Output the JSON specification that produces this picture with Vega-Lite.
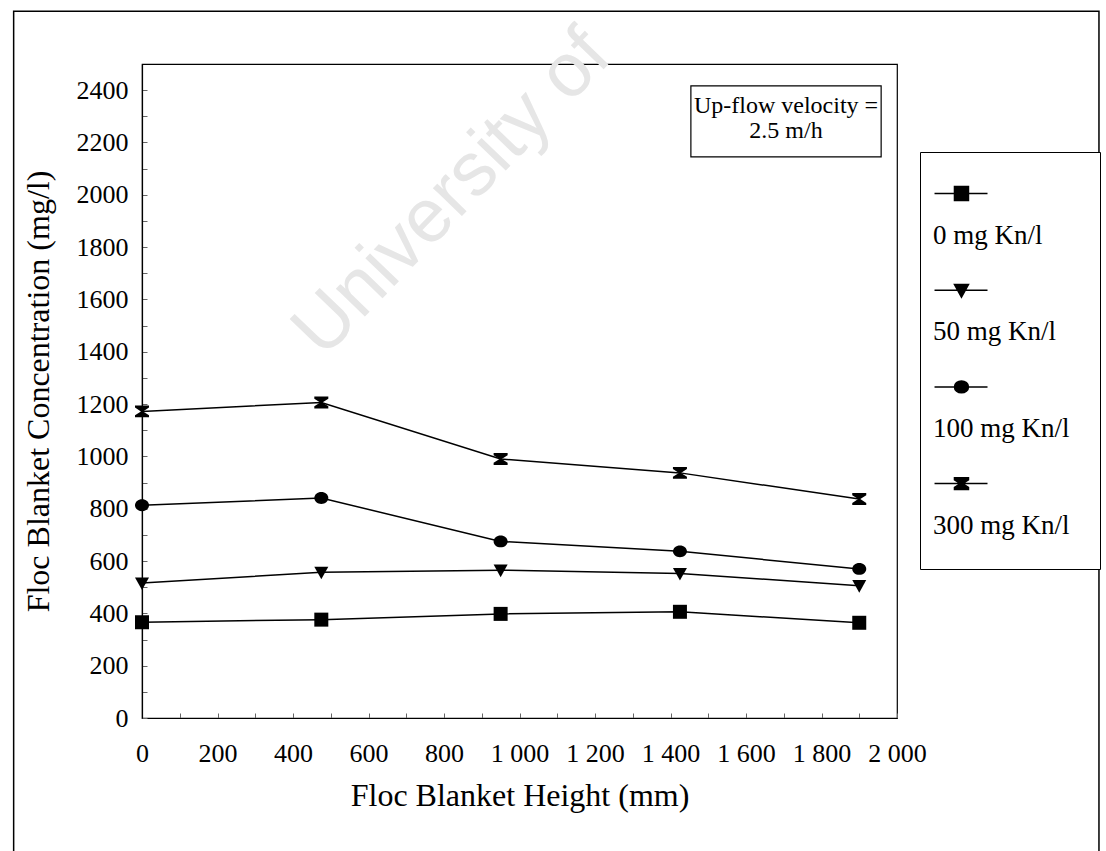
{
  "$schema": "https://vega.github.io/schema/vega-lite/v6.json",
  "width": 755,
  "height": 654,
  "autosize": {"type": "none"},
  "padding": {"left": 142, "top": 64, "right": 209, "bottom": 133},
  "background": "white",
  "config": {
    "view": {"stroke": "black", "strokeWidth": 1.2},
    "font": "Liberation Serif",
    "point": {"stroke": "black", "strokeWidth": 1.5},
    "axis": {
      "labelFont": "Liberation Serif",
      "labelFontSize": 26,
      "labelColor": "black",
      "titleFont": "Liberation Serif",
      "titleFontSize": 32,
      "titleFontWeight": "normal",
      "titleColor": "black",
      "domainColor": "black",
      "domainWidth": 1.2,
      "tickColor": "#666",
      "tickWidth": 1,
      "tickSize": -5,
      "grid": false,
      "labelOverlap": false,
      "labelFlush": false
    }
  },
  "datasets": {
    "frame": [{"h": -340, "h2": 2535, "c": -700, "c2": 2702}],
    "mark": [{"h": 480, "c": 1370, "t": "University of"}],
    "series": [
      {"s": "0 mg Kn/l", "h": 0, "c": 366},
      {"s": "0 mg Kn/l", "h": 475, "c": 376},
      {"s": "0 mg Kn/l", "h": 950, "c": 398},
      {"s": "0 mg Kn/l", "h": 1425, "c": 406},
      {"s": "0 mg Kn/l", "h": 1900, "c": 364},
      {"s": "50 mg Kn/l", "h": 0, "c": 516},
      {"s": "50 mg Kn/l", "h": 475, "c": 557},
      {"s": "50 mg Kn/l", "h": 950, "c": 565},
      {"s": "50 mg Kn/l", "h": 1425, "c": 552},
      {"s": "50 mg Kn/l", "h": 1900, "c": 506},
      {"s": "100 mg Kn/l", "h": 0, "c": 813},
      {"s": "100 mg Kn/l", "h": 475, "c": 841},
      {"s": "100 mg Kn/l", "h": 950, "c": 675},
      {"s": "100 mg Kn/l", "h": 1425, "c": 637},
      {"s": "100 mg Kn/l", "h": 1900, "c": 570},
      {"s": "300 mg Kn/l", "h": 0, "c": 1172},
      {"s": "300 mg Kn/l", "h": 475, "c": 1206},
      {"s": "300 mg Kn/l", "h": 950, "c": 990},
      {"s": "300 mg Kn/l", "h": 1425, "c": 937},
      {"s": "300 mg Kn/l", "h": 1900, "c": 837}
    ],
    "notebox": [{"h": 1454, "h2": 1958, "c": 2145, "c2": 2416}],
    "notetext": [
      {"h": 1706, "c": 2339, "t": "Up-flow velocity ="},
      {"h": 1706, "c": 2244, "t": "2.5 m/h"}
    ]
  },
  "resolve": {"scale": {"shape": "independent"}, "legend": {"shape": "independent"}},
  "encoding": {
    "x": {
      "field": "h",
      "type": "quantitative",
      "scale": {"domain": [0, 2000], "nice": false, "zero": false},
      "axis": {
        "title": "Floc Blanket Height (mm)",
        "values": [0,100,200,300,400,500,600,700,800,900,1000,1100,1200,1300,1400,1500,1600,1700,1800,1900,2000],
        "labelExpr": "datum.value % 200 == 0 ? replace(format(datum.value, ',d'), ',', ' ') : ''",
        "labelPadding": 27,
        "titlePadding": 14
      }
    },
    "y": {
      "field": "c",
      "type": "quantitative",
      "scale": {"domain": [0, 2500], "nice": false, "zero": false},
      "axis": {
        "title": "Floc Blanket Concentration (mg/l)",
        "values": [0,100,200,300,400,500,600,700,800,900,1000,1100,1200,1300,1400,1500,1600,1700,1800,1900,2000,2100,2200,2300,2400],
        "labelExpr": "datum.value % 200 == 0 ? format(datum.value, 'd') : ''",
        "labelPadding": 19,
        "titlePadding": 21
      }
    }
  },
  "layer": [
    {
      "data": {"name": "frame"},
      "mark": {"type": "rect", "fill": null, "fillOpacity": 0, "stroke": "black", "strokeWidth": 1.5, "clip": false},
      "encoding": {"x2": {"field": "h2"}, "y2": {"field": "c2"}}
    },
    {
      "data": {"name": "mark"},
      "mark": {"type": "text", "font": "Liberation Sans", "fontSize": 76, "color": "#e6e6e6", "angle": -46, "align": "left", "baseline": "alphabetic"},
      "encoding": {"text": {"field": "t"}}
    },
    {
      "data": {"name": "series"},
      "mark": {"type": "line", "color": "black", "strokeWidth": 1.5},
      "encoding": {"detail": {"field": "s"}}
    },
    {
      "data": {"name": "series"},
      "mark": {"type": "point", "filled": true, "color": "black", "size": 196, "opacity": 1, "strokeWidth": 0},
      "encoding": {
        "shape": {
          "field": "s",
          "type": "nominal",
          "scale": {
            "domain": ["0 mg Kn/l", "50 mg Kn/l", "100 mg Kn/l", "300 mg Kn/l"],
            "range": [
              "M-1,-1H1V1H-1Z",
              "M-1,-0.8H1L0,1Z",
              "M1,0A1,0.85 0 1,1 -1,0A1,0.85 0 1,1 1,0Z",
              "M-1,-0.85H1V-0.55L0.15,0L1,0.55V0.85H-1V0.55L-0.15,0L-1,-0.55Z"
            ]
          },
          "legend": null
        }
      }
    },
    {
      "data": {"name": "series"},
      "transform": [{"filter": "false"}],
      "mark": {"type": "point", "filled": true, "color": "black", "size": 196, "opacity": 1},
      "encoding": {
        "shape": {
          "field": "s",
          "type": "nominal",
          "scale": {
            "domain": ["0 mg Kn/l", "50 mg Kn/l", "100 mg Kn/l", "300 mg Kn/l"],
            "range": [
              "M-4.14,-6H3.43M-1.29,-7H0.71V-5H-1.29Z",
              "M-4.14,-6H3.43M-1.29,-6.8H0.71L-0.29,-5Z",
              "M-4.14,-6H3.43M0.71,-6A1,0.85 0 1,1 -1.29,-6A1,0.85 0 1,1 0.71,-6Z",
              "M-4.14,-6H3.43M-1.29,-6.85H0.71V-6.55L-0.14,-6L0.71,-5.45V-5.15H-1.29V-5.45L-0.44,-6L-1.29,-6.55Z"
            ]
          },
          "legend": {
            "title": " ",
            "titleFont": "Liberation Serif",
            "titleFontSize": 20,
            "titlePadding": 20,
            "orient": "none",
            "legendX": 778,
            "legendY": 88,
            "padding": 30,
            "strokeColor": "black",
            "fillColor": "white",
            "labelFont": "Liberation Serif",
            "labelFontSize": 27,
            "labelColor": "black",
            "labelOffset": -44,
            "labelLimit": 0,
            "rowPadding": 31.7,
            "symbolSize": 196,
            "symbolStrokeWidth": 1.5,
            "symbolOpacity": 1
          }
        }
      }
    },
    {
      "data": {"name": "notebox"},
      "mark": {"type": "rect", "fill": "white", "stroke": "black", "strokeWidth": 1.2},
      "encoding": {"x2": {"field": "h2"}, "y2": {"field": "c2"}}
    },
    {
      "data": {"name": "notetext"},
      "mark": {"type": "text", "font": "Liberation Serif", "fontSize": 24, "color": "black", "align": "center", "baseline": "middle"},
      "encoding": {"text": {"field": "t"}}
    }
  ]
}
